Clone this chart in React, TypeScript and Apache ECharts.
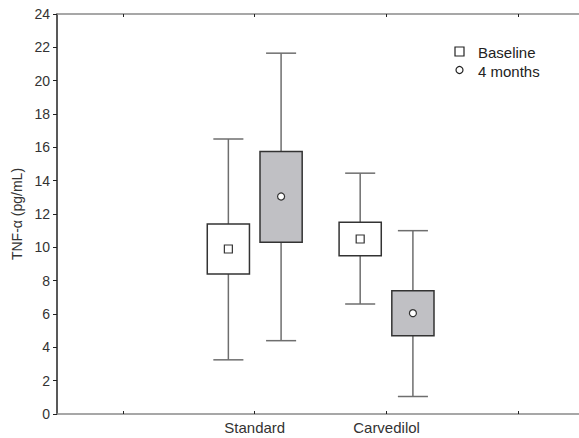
import React, { useEffect, useRef } from "react";
import * as echarts from "echarts";

const categories = ["Standard", "Carvedilol"];
const categoryPositions = [2, 3];
const axisTickValues = [1, 2, 3, 4];
const yTicks = [0, 2, 4, 6, 8, 10, 12, 14, 16, 18, 20, 22, 24];

const baselineMin = [3.25, 6.6];
const baselineQ1 = [8.4, 9.5];
const baselineQ3 = [11.4, 11.5];
const baselineMax = [16.5, 14.45];
const baselineMean = [9.9, 10.5];

const months4Min = [4.4, 1.05];
const months4Q1 = [10.3, 4.7];
const months4Q3 = [15.75, 7.4];
const months4Max = [21.65, 11.0];
const months4Mean = [13.05, 6.05];

const seriesNames = ["Baseline", "4 months"];
const FONT = "'Liberation Sans', Arial, sans-serif";

function buildRows(offset: number, mn: number[], q1: number[], q3: number[], mx: number[], mean: number[]) {
  return categoryPositions.map((p, i) => [p + offset, mn[i], q1[i], q3[i], mx[i], mean[i]]);
}

function makeRender(fill: string, marker: "square" | "circle") {
  return (params: any, api: any) => {
    const x = api.value(0);
    const mn = api.coord([x, api.value(1)]);
    const q1 = api.coord([x, api.value(2)]);
    const q3 = api.coord([x, api.value(3)]);
    const mx = api.coord([x, api.value(4)]);
    const mean = api.coord([x, api.value(5)]);
    const left = api.coord([x - 0.16, 0])[0];
    const right = api.coord([x + 0.16, 0])[0];
    const capL = api.coord([x - 0.114, 0])[0];
    const capR = api.coord([x + 0.114, 0])[0];
    const cx = mn[0];
    const wStyle = { stroke: "#6e6e6e", lineWidth: 1.5 };
    const children: any[] = [
      { type: "line", shape: { x1: cx, y1: mn[1], x2: cx, y2: q1[1] }, style: wStyle },
      { type: "line", shape: { x1: cx, y1: q3[1], x2: cx, y2: mx[1] }, style: wStyle },
      { type: "line", shape: { x1: capL, y1: mn[1], x2: capR, y2: mn[1] }, style: wStyle },
      { type: "line", shape: { x1: capL, y1: mx[1], x2: capR, y2: mx[1] }, style: wStyle },
      {
        type: "rect",
        shape: { x: left, y: q3[1], width: right - left, height: q1[1] - q3[1] },
        style: { fill, stroke: "#333", lineWidth: 1.5 },
      },
    ];
    if (marker === "square") {
      children.push({
        type: "rect",
        shape: { x: mean[0] - 4, y: mean[1] - 4, width: 8, height: 8 },
        style: { fill: "#fff", stroke: "#333", lineWidth: 1.2 },
      });
    } else {
      children.push({
        type: "circle",
        shape: { cx: mean[0], cy: mean[1], r: 3.5 },
        style: { fill: "#fff", stroke: "#333", lineWidth: 1.2 },
      });
    }
    return { type: "group", children };
  };
}

export default function App() {
  const ref = useRef<HTMLDivElement>(null);
  useEffect(() => {
    document.body.style.margin = "0";
    const chart = echarts.init(ref.current!, null, { renderer: "svg" });
    const baselineRows = buildRows(-0.2, baselineMin, baselineQ1, baselineQ3, baselineMax, baselineMean);
    const months4Rows = buildRows(0.2, months4Min, months4Q1, months4Q3, months4Max, months4Mean);
    const xCommon = {
      type: "value",
      min: 0.5,
      max: 4.46,
      splitLine: { show: false },
      axisLine: { show: true, lineStyle: { color: "#8a8a8a", width: 1.5 } },
      axisTick: { show: true, inside: true, length: 3, customValues: axisTickValues, lineStyle: { color: "#222", width: 1 } },
    };
    chart.setOption({
      animation: false,
      backgroundColor: "#fff",
      grid: { left: 57, right: 0, top: 14, bottom: 24, containLabel: false },
      xAxis: [
        {
          ...xCommon,
          position: "bottom",
          axisLabel: {
            show: true,
            customValues: categoryPositions,
            formatter: (v: number) => categories[categoryPositions.indexOf(v)] ?? "",
            color: "#333",
            fontSize: 15,
            fontFamily: FONT,
            margin: 6,
          },
        },
        {
          ...xCommon,
          position: "top",
          axisLabel: { show: false },
        },
      ],
      yAxis: {
        type: "value",
        min: 0,
        max: 24,
        interval: 2,
        name: "TNF-α (pg/mL)",
        nameLocation: "middle",
        nameGap: 32,
        nameTextStyle: { color: "#333", fontSize: 14, fontFamily: FONT },
        splitLine: { show: false },
        axisLine: { show: true, lineStyle: { color: "#222", width: 1.5 } },
        axisTick: { show: true, length: 4, lineStyle: { color: "#222" } },
        axisLabel: {
          color: "#333",
          fontSize: 14,
          fontFamily: FONT,
          margin: 7,
          formatter: (v: number) => (yTicks.includes(v) ? String(v) : ""),
        },
      },
      graphic: [
        {
          type: "rect",
          shape: { x: 455, y: 47, width: 9, height: 9 },
          style: { fill: "#fff", stroke: "#222", lineWidth: 1.2 },
        },
        {
          type: "text",
          x: 478,
          y: 52,
          style: { text: seriesNames[0], fill: "#222", fontSize: 15, fontFamily: FONT, verticalAlign: "middle" },
        },
        {
          type: "circle",
          shape: { cx: 459.5, cy: 70, r: 3.5 },
          style: { fill: "#fff", stroke: "#222", lineWidth: 1.2 },
        },
        {
          type: "text",
          x: 478,
          y: 71,
          style: { text: seriesNames[1], fill: "#222", fontSize: 15, fontFamily: FONT, verticalAlign: "middle" },
        },
      ],
      series: [
        {
          type: "custom",
          name: seriesNames[0],
          renderItem: makeRender("#ffffff", "square"),
          data: baselineRows,
          encode: { x: 0, y: [1, 2, 3, 4, 5] },
          z: 5,
        },
        {
          type: "custom",
          name: seriesNames[1],
          renderItem: makeRender("#c0c0c4", "circle"),
          data: months4Rows,
          encode: { x: 0, y: [1, 2, 3, 4, 5] },
          z: 5,
        },
      ],
    });
    return () => chart.dispose();
  }, []);
  return <div ref={ref} style={{ width: 579, height: 438 }} />;
}
